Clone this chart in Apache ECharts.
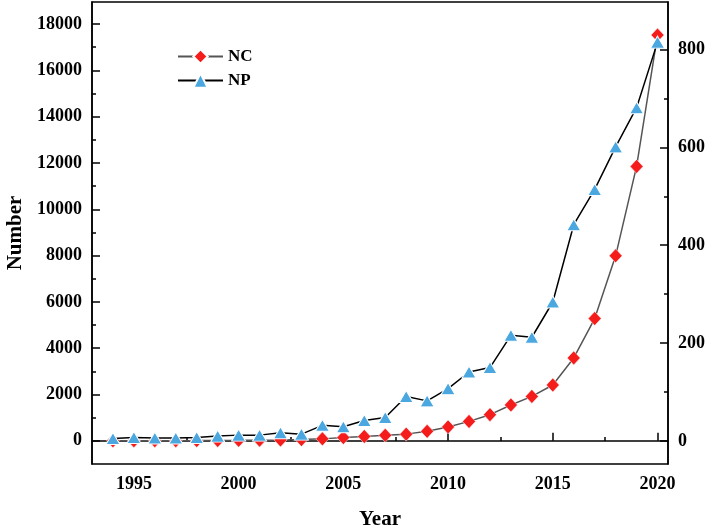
<!DOCTYPE html>
<html>
<head>
<meta charset="utf-8">
<script src="https://cdn.jsdelivr.net/npm/echarts@6/dist/echarts.min.js"></script>
<style>
html,body{margin:0;padding:0;background:#fff;}
#chart{width:708px;height:532px;}
</style>
</head>
<body>
<div id="chart"></div>
<script>
var years = [1994,1995,1996,1997,1998,1999,2000,2001,2002,2003,2004,2005,2006,2007,2008,2009,2010,2011,2012,2013,2014,2015,2016,2017,2018,2019,2020];
var ncValues = [5,5,6,8,12,18,22,30,40,55,85,140,190,240,290,410,600,840,1130,1550,1920,2410,3580,5280,7990,11850,17520];
var npValues = [5,7,6,6,7,10,12,12,17,14,32,29,42,48,91,82,107,141,150,216,212,284,442,514,601,681,815];
var xTicks = [1995,2000,2005,2010,2015,2020];
var xMinorTicks = [1997.5,2002.5,2007.5,2012.5,2017.5];
var leftTicks = [0,2000,4000,6000,8000,10000,12000,14000,16000,18000];
var leftMinorTicks = [1000,3000,5000,7000,9000,11000,13000,15000,17000];
var rightTicks = [0,200,400,600,800];
var rightMinorTicks = [100,300,500,700];

var FONT = '"Liberation Serif", "Times New Roman", serif';
function plain(v){ return String(v); }
var lbl = {color:'#000', fontFamily:FONT, fontWeight:'bold', fontSize:18, formatter:plain};
var axLine = {show:true, lineStyle:{color:'#000', width:1.5}};

function pairs(xs, ys){ return xs.map(function(x,i){return [x, ys[i]];}); }

var chart = echarts.init(document.getElementById('chart'));
chart.setOption({
  animation:false,
  backgroundColor:'#fff',
  grid:{left:92, right:40, top:2, bottom:68, show:true, borderColor:'#000', borderWidth:1.5,
        containLabel:false, outerBoundsMode:'none'},
  legend:{
    orient:'vertical', left:177, top:48, padding:0, itemWidth:45, itemHeight:18, itemGap:7,
    textStyle:{color:'#000', fontFamily:FONT, fontWeight:'bold', fontSize:17},
    data:['NC','NP']
  },
  xAxis:[
    {type:'value', min:1993, max:2020.5, position:'bottom',
     name:'Year', nameLocation:'middle', nameGap:45,
     nameTextStyle:{color:'#000', fontFamily:FONT, fontWeight:'bold', fontSize:21},
     axisLine:axLine,
     axisTick:{show:true, inside:true, length:8, customValues:xTicks, lineStyle:{color:'#000', width:1.5}},
     axisLabel:Object.assign({margin:11, customValues:xTicks}, lbl),
     splitLine:{show:false}},
    {type:'value', min:1993, max:2020.5, position:'bottom',
     axisLine:{show:false},
     axisTick:{show:true, inside:true, length:4, customValues:xMinorTicks, lineStyle:{color:'#000', width:1.5}},
     axisLabel:{show:false}, splitLine:{show:false}}
  ],
  yAxis:[
    {type:'value', min:-1000, max:18950, position:'left',
     name:'Number', nameLocation:'middle', nameGap:66,
     nameTextStyle:{color:'#000', fontFamily:FONT, fontWeight:'bold', fontSize:21},
     axisLine:axLine,
     axisTick:{show:true, inside:true, length:8, customValues:leftTicks, lineStyle:{color:'#000', width:1.5}},
     axisLabel:Object.assign({margin:10, customValues:leftTicks}, lbl),
     splitLine:{show:false}},
    {type:'value', min:-47, max:897, position:'right',
     axisLine:axLine,
     axisTick:{show:true, inside:true, length:8, customValues:rightTicks, lineStyle:{color:'#000', width:1.5}},
     axisLabel:Object.assign({margin:10, customValues:rightTicks}, lbl),
     splitLine:{show:false}},
    {type:'value', min:-1000, max:18950, position:'left',
     axisLine:{show:false},
     axisTick:{show:true, inside:true, length:4, customValues:leftMinorTicks, lineStyle:{color:'#000', width:1.5}},
     axisLabel:{show:false}, splitLine:{show:false}},
    {type:'value', min:-47, max:897, position:'right',
     axisLine:{show:false},
     axisTick:{show:true, inside:true, length:4, customValues:rightMinorTicks, lineStyle:{color:'#000', width:1.5}},
     axisLabel:{show:false}, splitLine:{show:false}}
  ],
  series:[
    {name:'NC', type:'line', xAxisIndex:0, yAxisIndex:0, data:pairs(years, ncValues),
     symbol:'diamond', symbolSize:[13,14], showAllSymbol:true,
     lineStyle:{color:'#555', width:1.5},
     itemStyle:{color:'#f51c1c', borderColor:'#fff', borderWidth:0.5}, z:2},
    {name:'NP', type:'line', xAxisIndex:0, yAxisIndex:1, data:pairs(years, npValues),
     symbol:'triangle', symbolSize:[14,12], showAllSymbol:true,
     lineStyle:{color:'#000', width:1.5},
     itemStyle:{color:'#4aa7e0', borderColor:'#fff', borderWidth:1}, z:3}
  ]
});
</script>
</body>
</html>
